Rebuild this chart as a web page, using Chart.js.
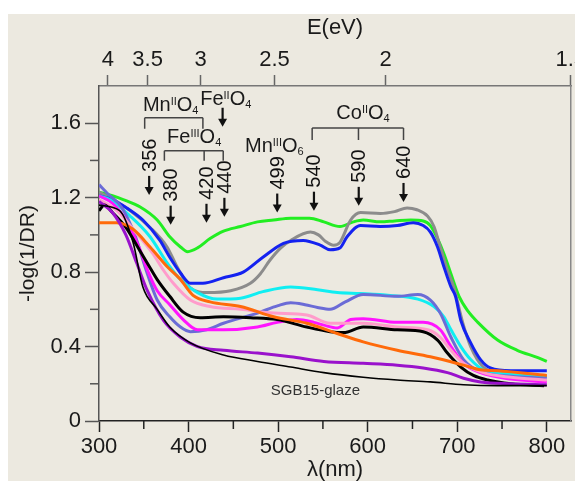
<!DOCTYPE html>
<html>
<head>
<meta charset="utf-8">
<script src="https://cdn.jsdelivr.net/npm/chart.js@4.4.0/dist/chart.umd.min.js"></script>
<style>
  html,body{margin:0;padding:0;background:#fff;overflow:hidden;}
  #wrap{position:absolute;left:8px;top:14px;width:567px;height:467px;background:#ECE9E0;}
</style>
</head>
<body>
<div id="wrap"><canvas id="c" width="567" height="467"></canvas></div>
<script>
// axis ticks
const xTicks = [300,400,500,600,700,800];
const xMinor = [350,450,550,650,750];
const yTicks = [0,0.4,0.8,1.2,1.6];
const yMinor = [0.2,0.6,1.0,1.4];
const eTicks = [4,3.5,3,2.5,2,1.5];

// spectra: wavelength (nm) and -log(1/DR)
const greenNm  = [300,315,327,346,365,379,391,399,410,424,439,458,477,495,514,535,551,569,584,595,614,630,648,662,670,678,685,693,702,712,723,745,767,790,800];
const greenVal = [1.23,1.21,1.19,1.15,1.08,0.99,0.935,0.91,0.93,0.98,1.02,1.045,1.07,1.08,1.09,1.09,1.07,1.045,1.07,1.08,1.07,1.075,1.08,1.075,1.05,0.98,0.90,0.79,0.67,0.59,0.53,0.435,0.38,0.34,0.32];

const grayNm  = [300,315,335,357,376,387,402,421,447,469,480,491,503,514,536,545,553,562,569,581,592,614,630,644,655,667,674,681,689,696,706,715,729,745,800];
const grayVal = [1.23,1.19,1.13,1.04,0.935,0.83,0.715,0.69,0.70,0.74,0.79,0.865,0.93,0.97,1.015,1.0,0.965,0.945,0.96,1.08,1.12,1.115,1.125,1.145,1.135,1.10,1.045,0.935,0.81,0.72,0.53,0.40,0.29,0.26,0.24];

const blueNm  = [300,315,331,349,368,379,391,402,416,439,461,483,506,528,547,558,569,577,592,614,633,651,662,670,678,685,693,698,704,715,726,737,760,800];
const blueVal = [1.21,1.19,1.145,1.08,0.97,0.88,0.795,0.74,0.74,0.77,0.80,0.88,0.955,0.97,0.945,0.92,0.93,0.99,1.05,1.045,1.05,1.065,1.05,1.015,0.935,0.83,0.72,0.67,0.54,0.42,0.33,0.285,0.27,0.27];

const cyanNm  = [300,312,335,357,376,391,410,432,458,483,514,544,566,592,625,656,674,685,693,704,715,729,760,800];
const cyanVal = [1.21,1.19,1.10,0.99,0.85,0.76,0.69,0.655,0.66,0.695,0.72,0.705,0.69,0.685,0.675,0.655,0.615,0.56,0.49,0.40,0.33,0.275,0.25,0.235];

const slateNm  = [300,310,325,340,352,365,379,391,402,420,439,477,500,514,530,544,558,575,595,633,656,670,681,693,707,726,760,800];
const slateVal = [1.27,1.22,1.15,1.0,0.82,0.65,0.56,0.505,0.48,0.49,0.525,0.58,0.62,0.635,0.625,0.61,0.60,0.64,0.68,0.67,0.68,0.65,0.58,0.45,0.33,0.265,0.24,0.23];

const magentaNm  = [300,315,330,345,355,365,379,394,410,439,477,499,521,540,551,566,581,595,633,662,681,693,707,726,760,800];
const magentaVal = [1.21,1.17,1.08,0.93,0.80,0.70,0.625,0.545,0.49,0.49,0.505,0.53,0.545,0.53,0.515,0.50,0.545,0.55,0.53,0.53,0.49,0.40,0.31,0.26,0.225,0.21];

const pinkNm  = [300,320,340,360,372,383,402,424,458,495,532,558,595,633,667,681,693,707,729,760,800];
const pinkVal = [1.19,1.13,1.02,0.90,0.81,0.74,0.65,0.615,0.60,0.58,0.57,0.525,0.525,0.505,0.49,0.45,0.38,0.31,0.26,0.235,0.22];

const blackNm  = [300,306,315,330,345,355,365,379,394,413,439,469,499,532,558,573,595,633,662,678,689,704,718,734,760,797];
const blackVal = [1.13,1.16,1.12,1.04,0.92,0.84,0.76,0.67,0.585,0.555,0.56,0.555,0.545,0.505,0.48,0.475,0.505,0.49,0.48,0.435,0.365,0.29,0.245,0.22,0.20,0.19];

const orangeNm  = [300,320,338,357,376,391,405,424,458,495,532,566,595,633,670,707,726,745,800];
const orangeVal = [1.065,1.065,1.03,0.935,0.83,0.76,0.675,0.64,0.615,0.56,0.525,0.47,0.425,0.38,0.345,0.30,0.275,0.27,0.245];

const purpleNm  = [300,315,330,342,354,372,391,410,439,477,514,551,595,633,662,689,707,726,760,800];
const purpleVal = [1.18,1.12,1.0,0.85,0.70,0.54,0.45,0.40,0.38,0.365,0.345,0.32,0.31,0.30,0.285,0.26,0.23,0.21,0.20,0.195];

const glazeNm  = [300,323,338,349,365,379,402,439,477,514,551,595,633,670,707,745,800];
const glazeVal = [1.16,1.13,0.96,0.72,0.60,0.505,0.42,0.355,0.32,0.29,0.26,0.235,0.22,0.21,0.195,0.19,0.19];

// band labels
const peaks = [356,380,420,440,499,540,590,640];

const FONT = "'Liberation Sans', Arial, sans-serif";

function pts(nm, v){ return nm.map((x,i)=>({x:x, y:v[i]})); }
function ds(nm, v, color, w){
  return {data:pts(nm,v), borderColor:color, backgroundColor:color, borderWidth:w||3,
          pointRadius:0, cubicInterpolationMode:'monotone', fill:false};
}

// annotation layout (data units)
const tips = [1.215,1.055,1.065,1.097,1.12,1.13,1.156,1.177];
const chems = [
  {x:349, y:1.667, parts:[['Mn',0],['II',1],['O',0],['4',-1]]},
  {x:413, y:1.699, parts:[['Fe',0],['II',1],['O',0],['4',-1]]},
  {x:376, y:1.495, parts:[['Fe',0],['III',1],['O',0],['4',-1]]},
  {x:463, y:1.446, parts:[['Mn',0],['III',1],['O',0],['6',-1]]},
  {x:565, y:1.624, parts:[['Co',0],['II',1],['O',0],['4',-1]]}
];
const brackets = [
  {xs:[351,416], y:1.629, y2:1.570},
  {xs:[373,417.4,438.7], y:1.452, y2:1.398},
  {xs:[538,589.7,640], y:1.575, y2:1.51}
];

function arrow(ctx, x, tip, len){
  ctx.beginPath(); ctx.moveTo(x, tip-len); ctx.lineTo(x, tip-7);
  ctx.lineWidth = 2.2; ctx.stroke();
  ctx.beginPath(); ctx.moveTo(x-4.5, tip-8); ctx.lineTo(x+4.5, tip-8); ctx.lineTo(x, tip);
  ctx.closePath(); ctx.fill();
}

function chem(ctx, x, y, parts){
  parts.forEach(p=>{
    const small = p[1] !== 0;
    ctx.font = (small ? '11px ' : '20px ') + FONT;
    const dy = p[1] === 1 ? -6 : (p[1] === -1 ? 3 : 0);
    ctx.fillText(p[0], x, y+dy);
    x += ctx.measureText(p[0]).width;
  });
}

const extras = {
  id:'extras',
  afterDraw(chart){
    const {ctx, scales:{x, y}, chartArea:a} = chart;
    ctx.save();
    // minor ticks
    ctx.lineWidth = 1.5;
    ctx.strokeStyle = '#222';
    xMinor.forEach(v=>{ const px = x.getPixelForValue(v);
      ctx.beginPath(); ctx.moveTo(px, a.bottom); ctx.lineTo(px, a.bottom+8); ctx.stroke(); });
    ctx.strokeStyle = '#555';
    yMinor.forEach(v=>{ const py = y.getPixelForValue(v);
      ctx.beginPath(); ctx.moveTo(a.left, py); ctx.lineTo(a.left-9, py); ctx.stroke(); });

    // arrows + rotated wavelengths
    ctx.fillStyle = '#111'; ctx.strokeStyle = '#111';
    peaks.forEach((p,i)=>{
      const px = x.getPixelForValue(p), tip = y.getPixelForValue(tips[i]);
      arrow(ctx, px, tip, 19);
      ctx.save();
      ctx.translate(px, tip-23); ctx.rotate(-Math.PI/2);
      ctx.font = '20px ' + FONT; ctx.textAlign = 'left'; ctx.textBaseline = 'middle';
      ctx.fillText(String(p), 0, 1);
      ctx.restore();
    });
    // Fe(II) arrow
    arrow(ctx, x.getPixelForValue(438), y.getPixelForValue(1.581), 19);

    // brackets
    ctx.strokeStyle = '#444'; ctx.lineWidth = 1.5;
    brackets.forEach(b=>{
      const yy = y.getPixelForValue(b.y), y2 = y.getPixelForValue(b.y2);
      const xs = b.xs.map(v=>x.getPixelForValue(v));
      ctx.beginPath(); ctx.moveTo(xs[0], yy); ctx.lineTo(xs[xs.length-1], yy);
      xs.forEach(px=>{ ctx.moveTo(px, yy); ctx.lineTo(px, y2); });
      ctx.stroke();
    });

    // species labels
    ctx.fillStyle = '#1a1a1a'; ctx.textAlign = 'left'; ctx.textBaseline = 'alphabetic';
    chems.forEach(c=>chem(ctx, x.getPixelForValue(c.x), y.getPixelForValue(c.y), c.parts));

    // sample name
    ctx.font = '15px ' + FONT; ctx.fillStyle = '#333'; ctx.textAlign = 'center'; ctx.textBaseline = 'middle';
    ctx.fillText('SGB15-glaze', x.getPixelForValue(541.6), y.getPixelForValue(0.161));
    ctx.restore();
  }
};

const tickFont = {family:FONT, size:22};

new Chart(document.getElementById('c'), {
  type:'line',
  data:{datasets:[
    ds(glazeNm, glazeVal, '#000000', 1.6),
    ds(purpleNm, purpleVal, '#9A12CC'),
    ds(orangeNm, orangeVal, '#FF6A0A'),
    ds(blackNm, blackVal, '#000000'),
    ds(pinkNm, pinkVal, '#FF9CCB'),
    ds(magentaNm, magentaVal, '#FF14FF'),
    ds(slateNm, slateVal, '#6B6BD6'),
    ds(cyanNm, cyanVal, '#10EEF2'),
    ds(blueNm, blueVal, '#1422F0'),
    ds(grayNm, grayVal, '#8C8C8C'),
    ds(greenNm, greenVal, '#22EE22')
  ]},
  options:{
    responsive:false, animation:false, devicePixelRatio:1,
    layout:{padding:{left:0,right:4,top:0,bottom:0}},
    plugins:{legend:{display:false}, tooltip:{enabled:false}},
    scales:{
      x:{type:'linear', position:'bottom', min:300, max:827,
        afterBuildTicks:s=>{ s.ticks = xTicks.map(v=>({value:v})); },
        afterFit:s=>{ s.height = 60; s.paddingLeft = 0; s.paddingRight = 0; },
        ticks:{font:tickFont, color:'#1a1a1a', padding:2, maxRotation:0, autoSkip:false},
        grid:{drawOnChartArea:false, tickLength:11, tickColor:'#222', tickWidth:1.5},
        border:{color:'#222', width:1.5},
        title:{display:true, text:'λ(nm)', font:tickFont, color:'#1a1a1a', padding:{top:0,bottom:-2}}
      },
      x2:{type:'linear', position:'top', min:300, max:827,
        afterBuildTicks:s=>{ s.ticks = eTicks.map(e=>({value:1240/e})); },
        afterFit:s=>{ s.height = 72; s.paddingLeft = 0; s.paddingRight = 0; },
        ticks:{font:tickFont, color:'#1a1a1a', padding:2, maxRotation:0, autoSkip:false,
               callback:(v,i)=>String(eTicks[i])},
        grid:{drawOnChartArea:false, tickLength:11, tickColor:'#666', tickWidth:1.5},
        border:{color:'#777', width:1.5},
        title:{display:true, text:'E(eV)', font:tickFont, color:'#1a1a1a', padding:{top:1,bottom:0}}
      },
      y:{type:'linear', position:'left', min:0, max:1.8,
        afterBuildTicks:s=>{ s.ticks = yTicks.map(v=>({value:v})); },
        afterFit:s=>{ s.width = 91; s.paddingTop = 0; s.paddingBottom = 0; },
        ticks:{font:tickFont, color:'#1a1a1a', padding:4, callback:v=>v===0?'0':v.toFixed(1)},
        grid:{drawOnChartArea:false, tickLength:14, tickColor:'#555', tickWidth:1.5},
        border:{color:'#555', width:1.5},
        title:{display:true, text:'-log(1/DR)', font:{family:FONT,size:21}, color:'#1a1a1a', padding:{top:8,bottom:0}}
      },
      y2:{type:'linear', position:'right', min:0, max:1.8,
        afterFit:s=>{ s.width = 0; },
        ticks:{display:false},
        grid:{drawOnChartArea:false, drawTicks:false},
        border:{color:'#888', width:1.5}
      }
    }
  },
  plugins:[extras]
});
</script>
</body>
</html>
